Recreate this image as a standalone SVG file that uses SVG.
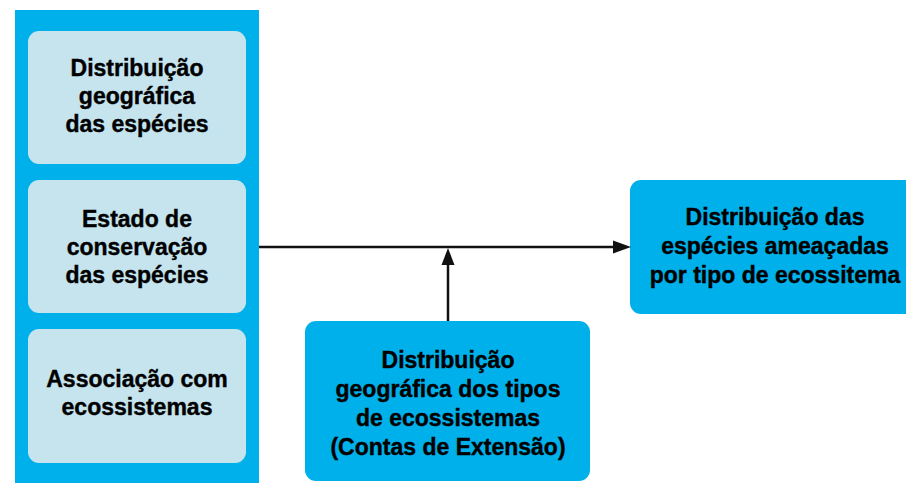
<svg xmlns="http://www.w3.org/2000/svg" width="906" height="483" viewBox="0 0 906 483">
<style>
.t{font-family:"Liberation Sans",Arial,sans-serif;font-weight:bold;font-size:23px;fill:#000;stroke:#000;stroke-width:0.4;text-anchor:middle}
.blue{fill:#00B0EA}
.light{fill:#C5E4EE}
.ln{stroke:#111;stroke-width:2.5;fill:none}
</style>
<rect width="906" height="483" fill="#fff"/>
<g id="panel">
<rect class="blue" x="15" y="10" width="244" height="480"/>
</g>
<g id="n1">
<rect class="light" x="28" y="31" width="218" height="133" rx="11"/>
<text class="t" x="137" y="76">Distribuição</text>
<text class="t" x="137" y="104">geográfica</text>
<text class="t" x="137" y="132">das espécies</text>
</g>
<g id="n2">
<rect class="light" x="28" y="180" width="218" height="133" rx="11"/>
<text class="t" x="137" y="227">Estado de</text>
<text class="t" x="137" y="255">conservação</text>
<text class="t" x="137" y="283">das espécies</text>
</g>
<g id="n3">
<rect class="light" x="28" y="329" width="218" height="134" rx="11"/>
<text class="t" x="137" y="387">Associação com</text>
<text class="t" x="137" y="415">ecossistemas</text>
</g>
<g id="n4">
<rect class="blue" x="630" y="180" width="290" height="134" rx="11"/>
<text class="t" x="775" y="225">Distribuição das</text>
<text class="t" x="775" y="254">espécies ameaçadas</text>
<text class="t" x="775" y="283">por tipo de ecossitema</text>
</g>
<g id="n5">
<rect class="blue" x="305" y="321" width="285" height="160" rx="11"/>
<text class="t" x="448" y="368">Distribuição</text>
<text class="t" x="448" y="397">geográfica dos tipos</text>
<text class="t" x="448" y="426">de ecossistemas</text>
<text class="t" x="448" y="455">(Contas de Extensão)</text>
</g>
<g id="connectors">
<line class="ln" x1="259" y1="247" x2="614" y2="247"/>
<polygon points="613,240.5 631,247 613,253.5" fill="#111"/>
<line class="ln" x1="448" y1="321" x2="448" y2="263"/>
<polygon points="441.5,265 448,248 454.5,265" fill="#111"/>
</g>
</svg>
